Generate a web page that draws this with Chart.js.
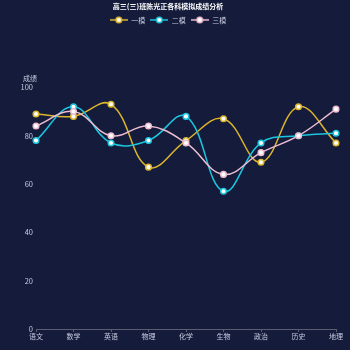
<!DOCTYPE html>
<html>
<head>
<meta charset="utf-8">
<script src="https://cdn.jsdelivr.net/npm/chart.js"></script>
<style>
  html, body { margin: 0; padding: 0; background: #141b3b; }
  #wrap { width: 350px; height: 350px; }
</style>
</head>
<body>
<div id="wrap"><canvas id="lineChart" width="350" height="350"></canvas></div>
<script>
const subjects = ['语文', '数学', '英语', '物理', '化学', '生物', '政治', '历史', '地理'];
const exam1 = [89, 88, 93, 67, 78, 87, 69, 92, 77];
const exam2 = [78, 92, 77, 78, 88, 57, 77, 80, 81];
const exam3 = [84, 90, 80, 84, 77, 64, 73, 80, 91];
const seriesNames = ['一模', '二模', '三模'];
const yTicks = [0, 20, 40, 60, 80, 100];

const colores = ['#dcb52c', '#1cc6de', '#ecbcd0'];
const fontFam = '"Noto Sans CJK SC", "Noto Sans", sans-serif';

// little line-with-dot marker for the legend
function marcador(color) {
    const c = document.createElement('canvas');
    c.width = 18; c.height = 8;
    const g = c.getContext('2d');
    g.strokeStyle = color;
    g.lineWidth = 1.5;
    g.beginPath(); g.moveTo(0, 4); g.lineTo(18, 4); g.stroke();
    g.fillStyle = '#fff';
    g.beginPath(); g.arc(9, 4, 2.8, 0, Math.PI * 2); g.fill();
    g.lineWidth = 1.5;
    g.stroke();
    return c;
}

// "成绩" caption above the value axis
const axisCaption = {
    id: 'axisCaption',
    afterDraw(chart) {
        const y = chart.scales.y;
        const ctx = chart.ctx;
        ctx.save();
        ctx.font = '7px ' + fontFam;
        ctx.fillStyle = '#c8cbe0';
        ctx.textAlign = 'center';
        ctx.textBaseline = 'middle';
        ctx.fillText('成绩', y.right - 6, y.top - 9);
        ctx.restore();
    }
};

// extra room between the legend and the plot
const legendGap = {
    id: 'legendGap',
    beforeInit(chart) {
        const fit = chart.legend.fit;
        chart.legend.fit = function () {
            fit.bind(chart.legend)();
            this.height += 54;
        };
    }
};

const datos = [exam1, exam2, exam3];

new Chart(document.getElementById('lineChart'), {
    type: 'line',
    data: {
        labels: subjects,
        datasets: datos.map((d, i) => ({
            label: seriesNames[i],
            data: d,
            borderColor: colores[i],
            backgroundColor: colores[i],
            borderWidth: 1.5,
            pointBackgroundColor: '#fff',
            pointBorderColor: colores[i],
            pointBorderWidth: 1.5,
            pointRadius: 2.8,
            tension: 0.4,
            order: 2 - i
        }))
    },
    options: {
        responsive: false,
        animation: false,
        layout: { padding: { left: 0, right: 14, top: 0, bottom: 0 } },
        plugins: {
            title: {
                display: true,
                text: '高三(三)班陈光正各科模拟成绩分析',
                color: '#ffffff',
                font: { family: fontFam, size: 7, weight: 'bold' },
                padding: { top: 2, bottom: 1 }
            },
            legend: {
                display: true,
                labels: {
                    color: '#c8cbe0',
                    font: { family: fontFam, size: 7 },
                    usePointStyle: true,
                    pointStyleWidth: 18,
                    boxHeight: 7,
                    padding: 5,
                    generateLabels: chart => seriesNames.map((n, i) => ({
                        text: n,
                        fontColor: '#c8cbe0',
                        pointStyle: marcador(colores[i]),
                        datasetIndex: i,
                        hidden: false,
                        lineWidth: 0
                    }))
                }
            },
            tooltip: { enabled: false }
        },
        scales: {
            x: {
                offset: false,
                grid: { display: true, drawOnChartArea: false, drawTicks: true, tickLength: 3, color: '#5a5e70' },
                border: { display: true, color: '#5a5e70', width: 1 },
                ticks: { color: '#c8cbe0', font: { family: fontFam, size: 7 }, padding: 0, maxRotation: 0, autoSkip: false },
                afterFit: s => { s.height = 21; }
            },
            y: {
                min: 0,
                max: 100,
                afterBuildTicks: s => { s.ticks = yTicks.map(v => ({ value: v })); },
                grid: { display: false, drawTicks: false, tickLength: 0 },
                border: { display: false },
                ticks: { color: '#c8cbe0', font: { family: fontFam, size: 7.5 }, padding: 3 },
                afterFit: s => { s.width = 36; }
            }
        }
    },
    plugins: [axisCaption, legendGap]
});
</script>
</body>
</html>
